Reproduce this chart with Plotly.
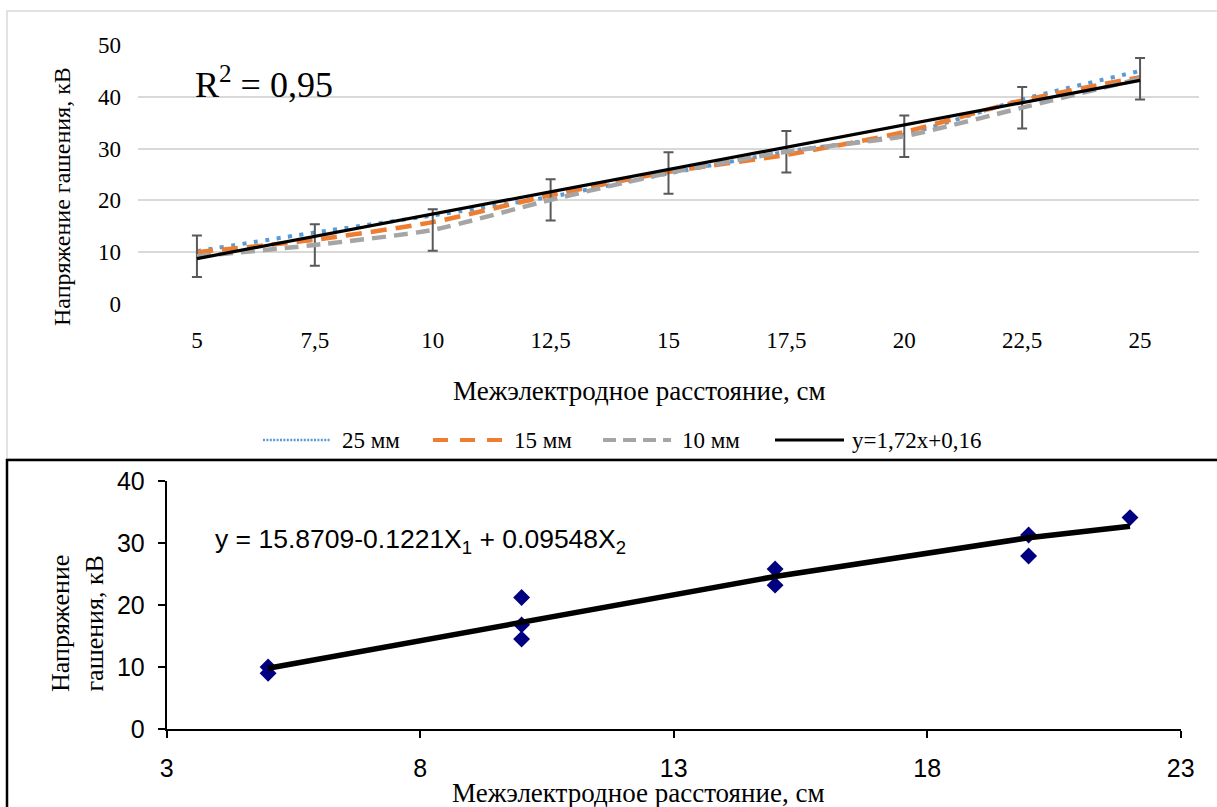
import plotly.graph_objects as go

W, H = 1217, 807

# ---- upper chart: quenching voltage vs electrode gap, three electrode diameters ----
gap_labels = ["5", "7,5", "10", "12,5", "15", "17,5", "20", "22,5", "25"]
series_names = ["25 мм", "15 мм", "10 мм"]
u_25mm = [10.2, 13.8, 17.1, 20.7, 25.2, 29.4, 32.7, 39.5, 45.0]
u_15mm = [10.0, 12.4, 15.8, 21.0, 25.5, 28.8, 33.2, 39.3, 43.8]
u_10mm = [9.2, 11.4, 14.3, 20.1, 25.3, 29.4, 32.4, 37.9, 43.5]
u_10mm_err = [4.0, 4.0, 4.0, 4.0, 4.0, 4.0, 4.0, 4.0, 4.0]
trend_name = "y=1,72x+0,16"
trend_values = [8.76, 13.06, 17.36, 21.66, 25.96, 30.26, 34.56, 38.86, 43.16]
r2_text = "R<sup>2</sup> = 0,95"

# ---- lower chart: measured points and regression ----
meas_x = [5, 5, 10, 10, 10, 15, 15, 20, 20, 22]
meas_u = [10.0, 9.0, 21.2, 16.8, 14.5, 25.8, 23.2, 31.3, 27.9, 34.1]
fit_x = [5, 10, 15, 20, 22]
fit_u = [9.8, 17.1, 24.6, 30.85, 32.7]
equation = "y = 15.8709-0.1221X<sub>1</sub> + 0.09548X<sub>2</sub>"

x_title = "Межэлектродное расстояние, см"
y_title = "Напряжение гашения, кВ"
y_title_2 = "Напряжение<br>гашения, кВ"

SERIF = "Liberation Serif"
SANS = "Liberation Sans"

colors = ["#5B9BD5", "#ED7D31", "#A5A5A5"]
dashes = ["4px,7.5px", "16px,9px", "14px,8px"]
widths = [4, 4.5, 4.5]


def px(x):
    return x / W


def py(y):
    return 1 - y / H


fig = go.Figure()

for name, vals, col, dash, wd in zip(series_names, [u_25mm, u_15mm, u_10mm],
                                     colors, dashes, widths):
    kw = {}
    if name == "10 мм":
        kw["error_y"] = dict(type="data", array=u_10mm_err, visible=True,
                             color="#595959", thickness=2, width=5)
    fig.add_trace(go.Scatter(
        x=gap_labels, y=vals, name=name, mode="lines",
        line=dict(color=col, width=wd, dash=dash, shape="spline", smoothing=0.6),
        xaxis="x", yaxis="y", **kw))

fig.add_trace(go.Scatter(
    x=gap_labels, y=trend_values, name=trend_name, mode="lines",
    line=dict(color="black", width=3.2), xaxis="x", yaxis="y"))

fig.add_trace(go.Scatter(
    x=meas_x, y=meas_u, mode="markers",
    marker=dict(symbol="diamond", size=13, color="#000080"),
    xaxis="x2", yaxis="y2"))
fig.add_trace(go.Scatter(
    x=fit_x, y=fit_u, mode="lines",
    line=dict(color="black", width=5.5), xaxis="x2", yaxis="y2"))

fig.update_layout(
    width=W, height=H, margin=dict(l=0, r=0, t=0, b=0, autoexpand=False),
    paper_bgcolor="white", plot_bgcolor="white", showlegend=False,
    xaxis=dict(domain=[px(138), px(1199)], anchor="y", type="category",
               categoryorder="array", categoryarray=gap_labels, automargin=False,
               range=[-0.5, 8.5], showgrid=False, zeroline=False, showline=False,
               ticks="", ticklabelstandoff=20,
               tickfont=dict(family=SERIF, size=23, color="black")),
    yaxis=dict(domain=[py(304), py(45)], anchor="x", range=[0, 50], dtick=10,
               automargin=False,
               showgrid=True, gridcolor="#d9d9d9", gridwidth=1.5,
               zeroline=False, showline=False, ticks="", ticklabelstandoff=16,
               tickfont=dict(family=SERIF, size=23, color="black")),
    xaxis2=dict(domain=[px(166.7), px(1180.7)], anchor="y2", range=[3, 23],
                tickvals=[3, 8, 13, 18, 23], showgrid=False, zeroline=False,
                automargin=False,
                showline=True, linecolor="black", linewidth=2,
                ticks="outside", ticklen=7, tickwidth=1.5, tickcolor="black",
                ticklabelstandoff=9,
                tickfont=dict(family=SANS, size=25, color="black")),
    yaxis2=dict(domain=[py(729), py(481)], anchor="x2", range=[0, 40], dtick=10,
                showgrid=False, zeroline=False, automargin=False,
                showline=True, linecolor="black", linewidth=2,
                ticks="outside", ticklen=7, tickwidth=1.5, tickcolor="black",
                ticklabelstandoff=8,
                tickfont=dict(family=SANS, size=25, color="black")),
)

shapes = [
    # panel frames
    dict(type="rect", xref="paper", yref="paper", x0=px(7), x1=px(1240),
         y0=py(459), y1=py(11), line=dict(color="#d9d9d9", width=1.5)),
    dict(type="rect", xref="paper", yref="paper", x0=px(7), x1=px(1240),
         y0=py(840), y1=py(460), line=dict(color="black", width=2.5)),
]

# legend of the upper chart
legend_y = 440
legend_items = [
    (263, 331, 340, series_names[0], colors[0], 2.5, "2px,1.4px"),
    (433, 503, 512, series_names[1], colors[1], 4, "15px,12px"),
    (603, 671, 680, series_names[2], colors[2], 4, "13px,7px"),
    (775, 844, 850, trend_name, "black", 3.2, "solid"),
]
annotations = []
for x0, x1, tx, label, col, wd, dash in legend_items:
    shapes.append(dict(type="line", xref="paper", yref="paper",
                       x0=px(x0), x1=px(x1), y0=py(legend_y), y1=py(legend_y),
                       line=dict(color=col, width=wd, dash=dash)))
    annotations.append(dict(xref="paper", yref="paper", x=px(tx), y=py(legend_y),
                            text=label, showarrow=False, xanchor="left",
                            yanchor="middle",
                            font=dict(family=SERIF, size=23, color="black")))

annotations += [
    dict(xref="paper", yref="paper", x=px(193), y=py(82), text=r2_text,
         showarrow=False, xanchor="left", yanchor="middle",
         font=dict(family=SERIF, size=36, color="black")),
    dict(xref="paper", yref="paper", x=px(62), y=py(197), text=y_title,
         textangle=-90, showarrow=False, xanchor="center", yanchor="middle",
         font=dict(family=SERIF, size=24, color="black")),
    dict(xref="paper", yref="paper", x=px(639), y=py(391), text=x_title,
         showarrow=False, xanchor="center", yanchor="middle",
         font=dict(family=SERIF, size=27, color="black")),
    dict(xref="paper", yref="paper", x=px(213), y=py(541), text=equation,
         showarrow=False, xanchor="left", yanchor="middle",
         font=dict(family=SANS, size=26.5, color="black")),
    dict(xref="paper", yref="paper", x=px(77), y=py(624), text=y_title_2,
         textangle=-90, showarrow=False, xanchor="center", yanchor="middle",
         font=dict(family=SERIF, size=26, color="black")),
    dict(xref="paper", yref="paper", x=px(638), y=py(793), text=x_title,
         showarrow=False, xanchor="center", yanchor="middle",
         font=dict(family=SERIF, size=27, color="black")),
]

fig.update_layout(shapes=shapes, annotations=annotations)

fig.write_html("out.html")
